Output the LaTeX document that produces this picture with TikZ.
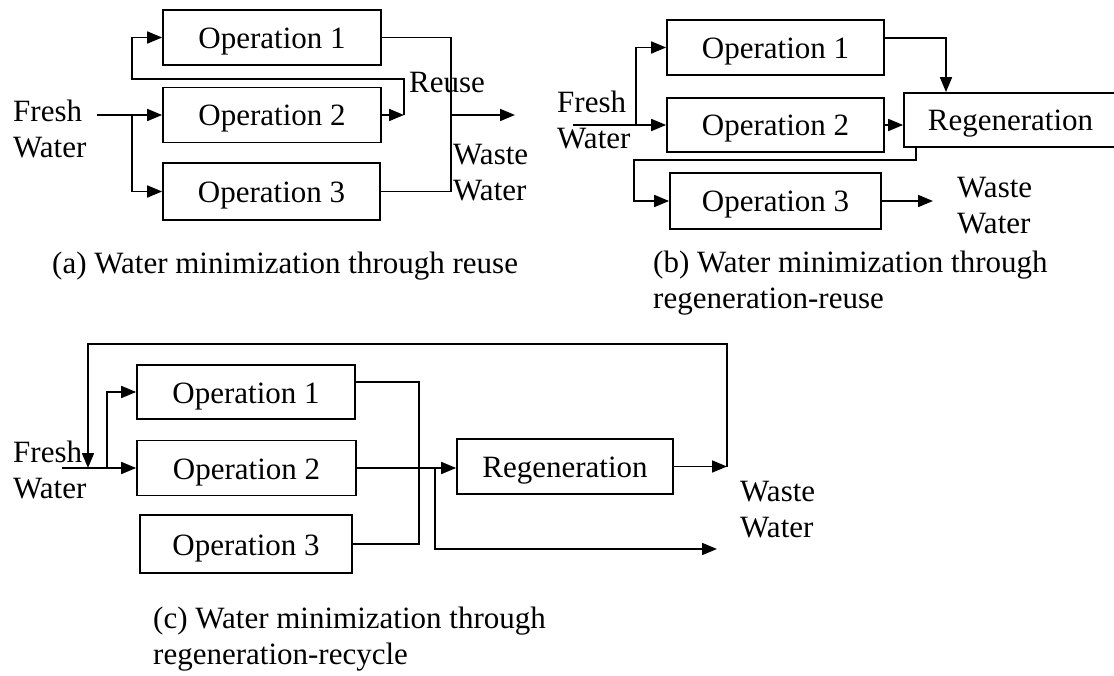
\documentclass[tikz,border=0pt]{standalone}
\usepackage{fontspec}
\setmainfont{Liberation Serif}
\usetikzlibrary{arrows.meta}
\begin{document}
\begin{tikzpicture}[x=1pt,y=-1pt,
  every node/.style={font=\fontsize{31}{36}\selectfont, inner sep=0pt},
  unit/.style={draw, line width=1.7pt, minimum height=55pt, text height=22pt, text depth=0pt},
  flow/.style={line width=1.7pt},
  feed/.style={flow, -{Triangle[length=15pt,width=12pt]}},
  txt/.style={align=left, anchor=west}]
\path[use as bounding box] (0,0) rectangle (1114,676);
\clip (0,0) rectangle (1114,676);

% ---------- (a) reuse ----------
\node[unit, minimum width=218pt] (a1) at (272,37.5) {Operation 1};
\node[unit, minimum width=218pt] (a2) at (272,115) {Operation 2};
\node[unit, minimum width=217pt, minimum height=57pt] (a3) at (271.5,191.5) {Operation 3};
\node[txt] (aFresh) at (13,128.5) {Fresh\\Water};
\node (aReuse) at (447,83) {Reuse};
\node[txt] (aWaste) at (453,172.5) {Waste\\Water};

\coordinate (aIn) at (97,115);
\coordinate (aSplit) at (132,115);
\coordinate (aLoopR) at (404,115);
\coordinate (aLoopTop) at (404,79);
\coordinate (aLoopL) at (132,79);
\coordinate (aCol) at (451,191.5);
\coordinate (aMix) at (451,115);
\coordinate (aOut) at (515,115);

\draw[feed] (aIn) -- (a2.west);
\draw[feed] (aSplit) |- (a3.west);
\draw[feed] (a2.east) -- (aLoopR);
\draw[feed] (aLoopR) -- (aLoopTop) -- (aLoopL) |- (a1.west);
\draw[flow] (a1.east) -| (aCol) -- (a3.east);
\draw[feed] (aMix) -- (aOut);

\node[anchor=west] (capA) at (52,266) {(a) Water minimization through reuse};

% ---------- (b) regeneration-reuse ----------
\node[unit, minimum width=217pt] (b1) at (775.5,47.5) {Operation 1};
\node[unit, minimum width=217pt, minimum height=54pt] (b2) at (775.5,125) {Operation 2};
\node[unit, minimum width=211pt, minimum height=56pt] (b3) at (775.5,201) {Operation 3};
\node[unit, minimum width=213pt, minimum height=54pt] (bR) at (1010.5,120) {Regeneration};
\node[txt] (bFresh) at (557,119.5) {Fresh\\Water};
\node[txt] (bWaste) at (957,206) {Waste\\Water};

\coordinate (bIn) at (573,125);
\coordinate (bSplit) at (636,125);
\coordinate (bTop) at (946,38);
\coordinate (bDrop) at (916,160);
\coordinate (bBack) at (634,160);
\coordinate (bOut) at (933,201);

\draw[feed] (bIn) -- (b2.west);
\draw[feed] (bSplit) |- (b1.west);
\draw[feed] (b1.east |- bTop) -- (bTop) -- (bTop |- bR.north);
\draw[feed] (b2.east) -- (b2.east -| bR.west);
\draw[feed] (bDrop |- bR.south) -- (bDrop) -- (bBack) |- (b3.west);
\draw[feed] (b3.east) -- (bOut);

\node[txt] (capB) at (653,283) {(b) Water minimization through\\regeneration-reuse};

% ---------- (c) regeneration-recycle ----------
\node[unit, minimum width=218pt, minimum height=54pt] (c1) at (246,392) {Operation 1};
\node[unit, minimum width=219pt] (c2) at (246.5,468) {Operation 2};
\node[unit, minimum width=212pt, minimum height=58pt] (c3) at (246,544) {Operation 3};
\node[unit, minimum width=216pt] (cR) at (565,466.5) {Regeneration};
\node[txt] (cFresh) at (13,469.5) {Fresh\\Water};
\node[txt] (cWaste) at (740,509.5) {Waste\\Water};

\coordinate (cIn) at (62,468);
\coordinate (cSplit) at (107,468);
\coordinate (cColTop) at (419,382);
\coordinate (cCol) at (419,544);
\coordinate (cBy) at (435,468);
\coordinate (cWaste) at (717,549);
\coordinate (cRet) at (727,466.5);
\coordinate (cRetTop) at (727,344);
\coordinate (cRetL) at (88,344);
\coordinate (cRetEnd) at (88,468);

\draw[feed] (cIn) -- (c2.west);
\draw[feed] (cSplit) |- (c1.west);
\draw[flow] (c1.east |- cColTop) -- (cColTop) -- (cCol) -- (c3.east);
\draw[feed] (c2.east) -- (c2.east -| cR.west);
\draw[feed] (cBy) |- (cWaste);
\draw[feed] (cR.east) -- (cRet);
\draw[feed] (cRet) -- (cRetTop) -- (cRetL) -- (cRetEnd);

\node[txt] (capC) at (153,639) {(c) Water minimization through\\regeneration-recycle};
\end{tikzpicture}
\end{document}
